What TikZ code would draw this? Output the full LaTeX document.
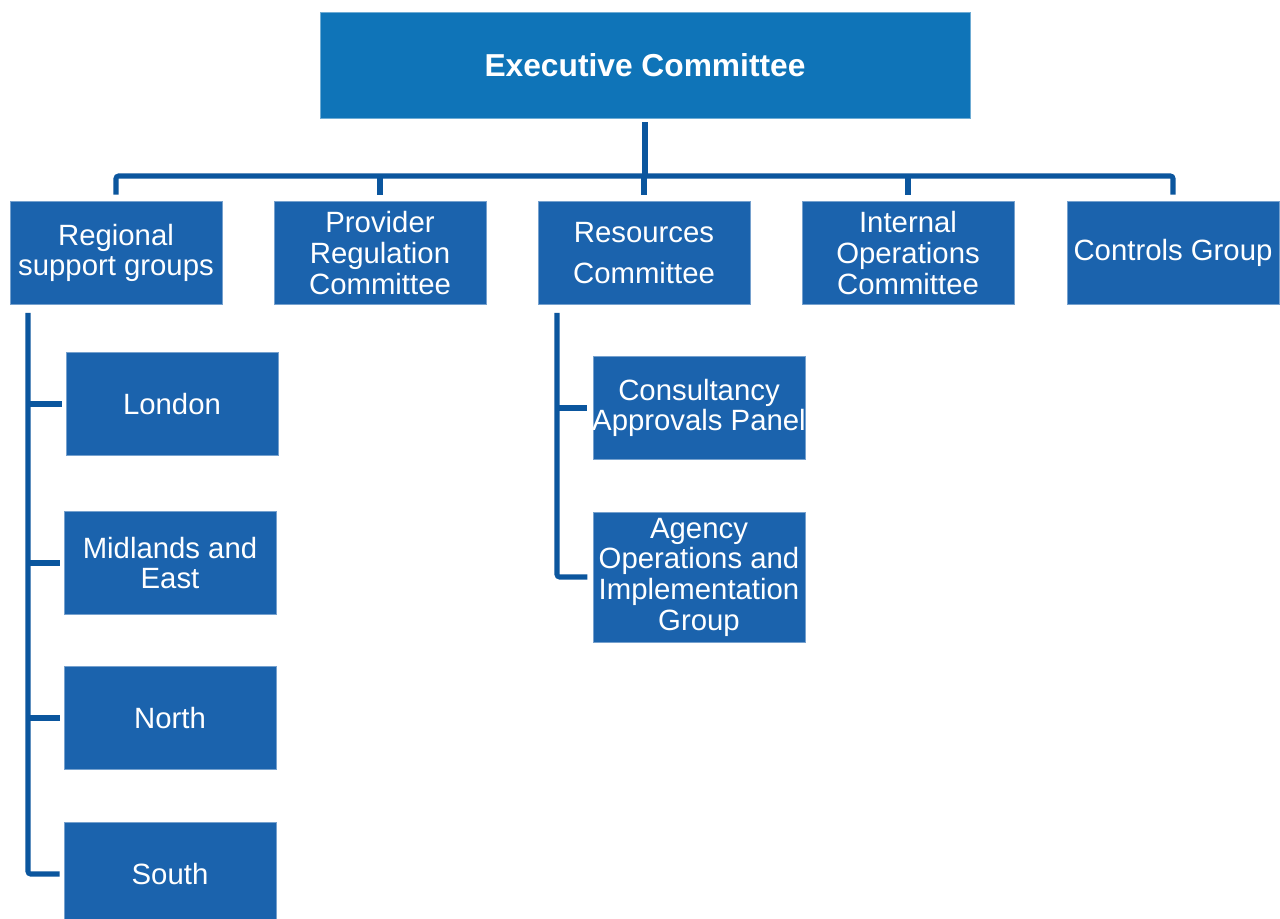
\documentclass[tikz,border=0pt]{standalone}
\usepackage{fontspec}
\setmainfont{Liberation Sans}
\definecolor{execblue}{HTML}{0F74B8}
\definecolor{boxblue}{HTML}{1B63AD}
\definecolor{lineblue}{HTML}{0B569E}
\begin{document}
\begin{tikzpicture}[x=0.75pt,y=-0.75pt,
  box/.style={rectangle,fill=boxblue,draw=boxblue!60!white,line width=0.4pt,text=white,
    minimum width=212*0.75pt,minimum height=103*0.75pt,align=center,inner sep=1pt,
    font=\fontsize{22}{23}\selectfont},
  execbox/.style={rectangle,fill=execblue,draw=execblue!60!white,line width=0.4pt,text=white,
    minimum width=650*0.75pt,minimum height=106*0.75pt,align=center,
    font=\fontsize{23.8}{26}\selectfont\bfseries},
  conn/.style={draw=lineblue,line width=3.8pt,rounded corners=2pt}]
\clip (0,0) rectangle (1280,919);
\fill[white] (0,0) rectangle (1280,919);
% top
\node[execbox] (exec) at (645,65) {Executive Committee};
% level 1
\node[box] (reg) at (116,253) {Regional\\support groups};
\node[box] (prov) at (380,253) {Provider\\Regulation\\Committee};
\node[box] (res) at (644,253) {Resources\\[8pt]Committee};
\node[box] (int) at (908,253) {Internal\\Operations\\Committee};
\node[box] (ctl) at (1173,253) {Controls Group};
% regional children
\node[box] (lon) at (172,404) {London};
\node[box] (mid) at (170,563) {Midlands and\\East};
\node[box] (nor) at (170,718) {North};
\node[box] (sou) at (170,874) {South};
% resources children
\node[box,inner xsep=-4pt] (con) at (699,408) {Consultancy\\Approvals Panel};
\node[box,minimum height=130*0.75pt] (agy) at (699,577) {Agency\\Operations and\\Implementation\\Group};
% bus
\coordinate (bus) at (645,176);
\draw[conn,shorten <=3pt] (exec.south) -- (exec.south |- bus);
\draw[conn,shorten <=5pt,shorten >=5pt] (reg.north) |- (ctl.north |- bus) -- (ctl.north);
\draw[conn,shorten <=5pt] (prov.north) -- (prov.north |- bus);
\draw[conn,shorten <=5pt] (res.north) -- (res.north |- bus);
\draw[conn,shorten <=5pt] (int.north) -- (int.north |- bus);
% regional tree
\coordinate (rl) at (28,0);
\draw[conn,shorten <=6pt,shorten >=3pt] (rl |- reg.south) |- (sou.west);
\draw[conn,shorten >=3pt] (rl |- lon.west) -- (lon.west);
\draw[conn,shorten >=3pt] (rl |- mid.west) -- (mid.west);
\draw[conn,shorten >=3pt] (rl |- nor.west) -- (nor.west);
% resources tree
\coordinate (rs) at (557,0);
\draw[conn,shorten <=6pt,shorten >=4pt] (rs |- res.south) |- (agy.west);
\draw[conn,shorten >=4pt] (rs |- con.west) -- (con.west);
\end{tikzpicture}
\end{document}
